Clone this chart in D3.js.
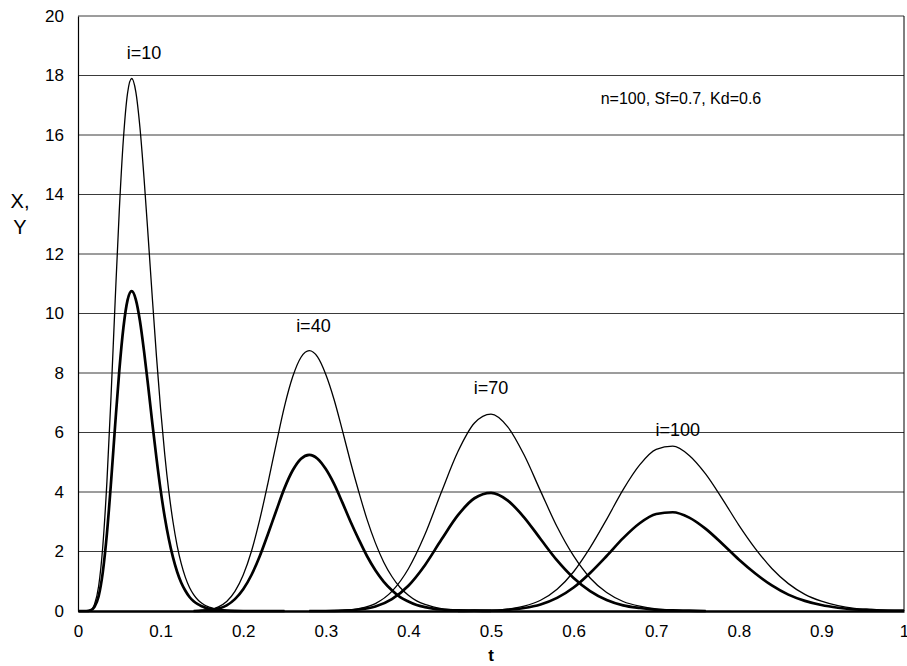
<!DOCTYPE html>
<html>
<head>
<meta charset="utf-8">
<script src="https://cdn.jsdelivr.net/npm/d3@7"></script>
<style>
  body { margin: 0; background: #fff; }
  svg { font-family: Arial, "Liberation Sans", sans-serif; }
</style>
</head>
<body>
<div id="chart"></div>
<script>

// t samples and values, thin = X, thick = Y
var t10 = [0, 0.005, 0.01, 0.015, 0.02, 0.025, 0.03, 0.035, 0.04, 0.045, 0.05, 0.055, 0.06, 0.065, 0.07, 0.075, 0.08, 0.085, 0.09, 0.095, 0.1, 0.105, 0.11, 0.115, 0.12, 0.125, 0.13, 0.135, 0.14, 0.145, 0.15, 0.155, 0.16, 0.17, 0.18, 0.2, 0.25];
var x10 = [0, 0, 0, 0.03, 0.23, 0.84, 2.17, 4.34, 7.22, 10.43, 13.47, 15.88, 17.41, 17.9, 17.45, 16.25, 14.53, 12.56, 10.51, 8.56, 6.79, 5.27, 4.01, 3.0, 2.2, 1.59, 1.13, 0.79, 0.55, 0.38, 0.26, 0.17, 0.12, 0.05, 0.02, 0, 0];
var y10 = [0, 0, 0, 0.02, 0.14, 0.5, 1.3, 2.6, 4.33, 6.26, 8.08, 9.53, 10.45, 10.75, 10.47, 9.75, 8.72, 7.54, 6.31, 5.14, 4.07, 3.16, 2.41, 1.8, 1.32, 0.95, 0.68, 0.47, 0.33, 0.23, 0.16, 0.1, 0.07, 0.03, 0.01, 0, 0];

var t40 = [0.14, 0.15, 0.16, 0.17, 0.18, 0.19, 0.2, 0.21, 0.22, 0.23, 0.24, 0.25, 0.26, 0.27, 0.28, 0.29, 0.3, 0.31, 0.32, 0.33, 0.34, 0.35, 0.36, 0.37, 0.38, 0.39, 0.4, 0.41, 0.42, 0.43, 0.44, 0.46, 0.48, 0.5];
var x40 = [0, 0.02, 0.05, 0.14, 0.32, 0.66, 1.21, 2.01, 3.07, 4.31, 5.62, 6.88, 7.88, 8.53, 8.75, 8.54, 7.95, 7.11, 6.08, 5.0, 4.0, 3.07, 2.29, 1.65, 1.16, 0.79, 0.53, 0.34, 0.22, 0.14, 0.08, 0.03, 0.01, 0];
var y40 = [0, 0.01, 0.03, 0.08, 0.19, 0.4, 0.73, 1.21, 1.84, 2.59, 3.37, 4.13, 4.73, 5.12, 5.25, 5.12, 4.77, 4.27, 3.65, 3.0, 2.4, 1.84, 1.37, 0.99, 0.7, 0.47, 0.32, 0.2, 0.13, 0.08, 0.05, 0.02, 0.01, 0];

var t70 = [0.28, 0.3, 0.32, 0.34, 0.36, 0.38, 0.4, 0.42, 0.44, 0.46, 0.48, 0.5, 0.52, 0.54, 0.56, 0.58, 0.6, 0.62, 0.64, 0.66, 0.68, 0.7, 0.72, 0.74, 0.76];
var x70 = [0, 0, 0.02, 0.08, 0.25, 0.66, 1.42, 2.57, 4.0, 5.36, 6.32, 6.62, 6.2, 5.25, 4.03, 2.83, 1.85, 1.11, 0.62, 0.32, 0.16, 0.07, 0.03, 0.01, 0];
var y70 = [0, 0, 0.01, 0.05, 0.15, 0.4, 0.85, 1.54, 2.4, 3.22, 3.79, 3.97, 3.72, 3.15, 2.42, 1.7, 1.11, 0.67, 0.37, 0.19, 0.1, 0.04, 0.02, 0.01, 0];

var t100 = [0.46, 0.48, 0.5, 0.52, 0.54, 0.56, 0.58, 0.6, 0.62, 0.64, 0.66, 0.68, 0.7, 0.72, 0.74, 0.76, 0.78, 0.8, 0.82, 0.84, 0.86, 0.88, 0.9, 0.92, 0.94, 0.96, 0.98, 1.0];
var x100 = [0, 0.01, 0.02, 0.06, 0.16, 0.36, 0.73, 1.32, 2.13, 3.08, 4.08, 4.91, 5.43, 5.54, 5.23, 4.6, 3.77, 2.89, 2.1, 1.43, 0.92, 0.56, 0.33, 0.18, 0.09, 0.05, 0.02, 0.01];
var y100 = [0, 0.01, 0.01, 0.04, 0.1, 0.22, 0.44, 0.79, 1.28, 1.85, 2.45, 2.95, 3.26, 3.32, 3.14, 2.76, 2.26, 1.73, 1.26, 0.86, 0.55, 0.34, 0.2, 0.11, 0.05, 0.03, 0.01, 0.01];

var xTicks = [0, 0.1, 0.2, 0.3, 0.4, 0.5, 0.6, 0.7, 0.8, 0.9, 1];
var yTicks = [0, 2, 4, 6, 8, 10, 12, 14, 16, 18, 20];

// label text and where it sits in data units
var peakLabels = ["i=10", "i=40", "i=70", "i=100"];
var peakLabelT = [0.08, 0.285, 0.5, 0.726];
var peakLabelV = [18.7, 9.55, 7.45, 6.05];
var paramText = "n=100, Sf=0.7, Kd=0.6";

var width = 907, height = 666;
var margin = {left: 78, right: 3, top: 16, bottom: 55};

var svg = d3.select("#chart")
	.append("svg")
	.attr("width", width)
	.attr("height", height);

var x = d3.scaleLinear().domain([0, 1]).range([margin.left, width - margin.right]);
var y = d3.scaleLinear().domain([0, 20]).range([height - margin.bottom, margin.top]);

// horizontal grid lines
svg.append("g")
	.selectAll("line")
	.data(yTicks.slice(1))
	.enter().append("line")
	.attr("x1", x(0))
	.attr("x2", x(1))
	.attr("y1", function(d) { return y(d); })
	.attr("y2", function(d) { return y(d); })
	.style("stroke", "#3a3a3a")
	.style("stroke-width", 1);

// right border
svg.append("line")
	.attr("x1", x(1)).attr("x2", x(1))
	.attr("y1", y(0)).attr("y2", y(20))
	.style("stroke", "#000").style("stroke-width", 1);

// axes, no tick marks only labels
var xAxis = svg.append("g")
	.attr("transform", "translate(0," + y(0) + ")")
	.call(d3.axisBottom(x).tickValues(xTicks).tickSize(0).tickPadding(14).tickFormat(d3.format("")));
xAxis.select(".domain").style("stroke", "#000").style("stroke-width", 2.5);
xAxis.selectAll("text").style("font-size", "17px").style("fill", "#000");

var yAxis = svg.append("g")
	.attr("transform", "translate(" + x(0) + ",0)")
	.call(d3.axisLeft(y).tickValues(yTicks).tickSize(0).tickPadding(14).tickFormat(d3.format("")));
yAxis.select(".domain").style("stroke", "#000").style("stroke-width", 1.2);
yAxis.selectAll("text").style("font-size", "17px").style("fill", "#000");

var series = [
	{t: t10, v: x10, w: 1.3}, {t: t10, v: y10, w: 2.7},
	{t: t40, v: x40, w: 1.3}, {t: t40, v: y40, w: 2.7},
	{t: t70, v: x70, w: 1.3}, {t: t70, v: y70, w: 2.7},
	{t: t100, v: x100, w: 1.3}, {t: t100, v: y100, w: 2.7}
];

var line = d3.line()
	.x(function(d) { return x(d[0]); })
	.y(function(d) { return y(d[1]); })
	.curve(d3.curveMonotoneX);

svg.append("g")
	.selectAll("path")
	.data(series)
	.enter().append("path")
	.attr("d", function(s) { return line(s.t.map(function(tt, i) { return [tt, s.v[i]]; })); })
	.style("fill", "none")
	.style("stroke", "#000")
	.style("stroke-width", function(s) { return s.w; })
	.style("stroke-linejoin", "round");

// peak labels
svg.append("g")
	.selectAll("text")
	.data(peakLabels)
	.enter().append("text")
	.attr("x", function(d, i) { return x(peakLabelT[i]); })
	.attr("y", function(d, i) { return y(peakLabelV[i]); })
	.attr("text-anchor", "middle")
	.attr("dominant-baseline", "middle")
	.style("font-size", "18px")
	.text(function(d) { return d; });

svg.append("text")
	.attr("x", x(0.73))
	.attr("y", y(17.2))
	.attr("text-anchor", "middle")
	.attr("dominant-baseline", "middle")
	.style("font-size", "16px")
	.text(paramText);

// axis titles
svg.append("text")
	.attr("x", 20).attr("y", 203)
	.attr("text-anchor", "middle").attr("dominant-baseline", "middle")
	.style("font-size", "20px")
	.text("X,");
svg.append("text")
	.attr("x", 20).attr("y", 229)
	.attr("text-anchor", "middle").attr("dominant-baseline", "middle")
	.style("font-size", "20px")
	.text("Y");
svg.append("text")
	.attr("x", x(0.5)).attr("y", 657)
	.attr("text-anchor", "middle").attr("dominant-baseline", "middle")
	.style("font-size", "17px").style("font-weight", "bold")
	.text("t");

</script>
</body>
</html>
